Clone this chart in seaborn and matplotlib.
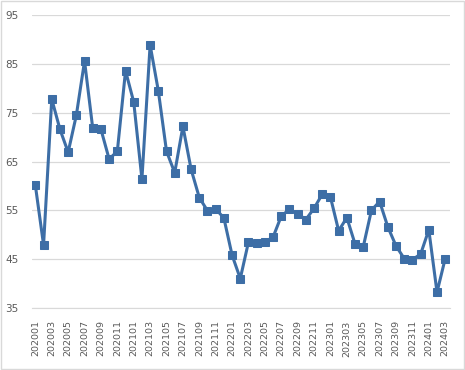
import matplotlib
matplotlib.use("Agg")
import matplotlib.pyplot as plt
import seaborn as sns
import pandas as pd
from matplotlib.patches import Rectangle

# monthly values, 202001 .. 202403
months = (
    [f"2020{m:02d}" for m in range(1, 13)]
    + [f"2021{m:02d}" for m in range(1, 13)]
    + [f"2022{m:02d}" for m in range(1, 13)]
    + [f"2023{m:02d}" for m in range(1, 13)]
    + [f"2024{m:02d}" for m in range(1, 4)]
)
values = [
    60.1, 47.9, 77.8, 71.6, 66.9, 74.5, 85.6, 71.8, 71.6, 65.5, 67.1, 83.6,
    77.2, 61.4, 88.9, 79.5, 67.1, 62.7, 72.2, 63.4, 57.6, 54.9, 55.3, 53.4,
    45.8, 41.0, 48.5, 48.3, 48.5, 49.5, 53.8, 55.2, 54.3, 53.1, 55.4, 58.3,
    57.7, 50.8, 53.5, 48.1, 47.5, 55.0, 56.8, 51.6, 47.7, 45.1, 44.9, 46.0,
    51.0, 38.2, 45.1,
]
y_ticks = [35, 45, 55, 65, 75, 85, 95]

df = pd.DataFrame({"idx": range(len(months)), "month": months, "value": values})

sns.set_style("white")
plt.rcParams["font.family"] = ["DejaVu Sans"]

fig = plt.figure(figsize=(4.65, 3.7), dpi=100)
ax = fig.add_axes([0.069, 0.168, 0.899, 0.791])

sns.lineplot(data=df, x="idx", y="value", ax=ax, color="#3d6ea6",
             linewidth=2.2, marker="s", markersize=5.5,
             markeredgecolor="#3d6ea6", markerfacecolor="#3d6ea6")

ax.set_ylim(35, 95)
ax.set_yticks(y_ticks)
ax.set_xlim(-0.4, len(months) - 0.4)
ax.set_xticks(df["idx"][::2])
ax.set_xticklabels(df["month"][::2], rotation=90)
ax.grid(axis="y", color="#d9d9d9", linewidth=0.9)
ax.set_axisbelow(True)
for s in ["left", "right", "top"]:
    ax.spines[s].set_visible(False)
ax.spines["bottom"].set_color("#d9d9d9")
ax.tick_params(axis="both", length=0, labelcolor="#595959")
ax.tick_params(axis="y", pad=10, labelsize=7.5)
ax.tick_params(axis="x", pad=9, labelsize=6.8)
ax.set_xlabel("")
ax.set_ylabel("")

fig.patches.append(Rectangle((0.002, 0.003), 0.995, 0.994, transform=fig.transFigure,
                             fill=False, edgecolor="#d9d9d9", linewidth=1))

fig.savefig("out.png", dpi=100)
